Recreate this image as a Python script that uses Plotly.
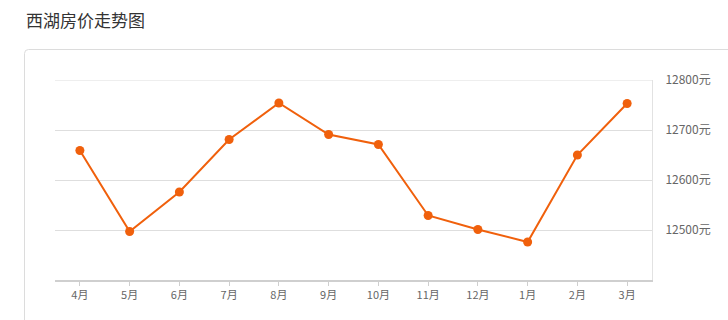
import plotly.graph_objects as go

months = ["4月", "5月", "6月", "7月", "8月", "9月", "10月", "11月", "12月", "1月", "2月", "3月"]
prices = [12659, 12497, 12576, 12681, 12754, 12691, 12671, 12529, 12501, 12476, 12650, 12753]
y_ticks = [12500, 12600, 12700, 12800]
y_tick_text = [f"{v}元" for v in y_ticks]
title_text = "西湖房价走势图"

W, H = 728, 320
L, R, T, B = 55, 76, 80, 40
pw, ph = W - L - R, H - T - B

def px(x):
    return (x - L) / pw

def py(y):
    return (H - B - y) / ph

orange = "#f0600c"
grid_color = "#dedede"
font_family = "Noto Sans CJK SC, Open Sans, sans-serif"

fig = go.Figure()
fig.add_trace(go.Scatter(
    x=months, y=prices, mode="lines+markers",
    line=dict(color=orange, width=2),
    marker=dict(color=orange, size=9),
    hoverinfo="x+y",
))

# card border with rounded top-left corner
x0, y0, x1, y1 = px(24.5), py(49.5), px(760), py(340)
r_x, r_y = 4 / pw, 4 / ph
path = (f"M {x0},{y1} L {x0},{y0 - r_y} Q {x0},{y0} {x0 + r_x},{y0} "
        f"L {x1},{y0} L {x1},{y1}")

fig.update_layout(
    width=W, height=H,
    margin=dict(l=L, r=R, t=T, b=B),
    paper_bgcolor="white", plot_bgcolor="white",
    showlegend=False,
    font=dict(family=font_family, color="#666"),
    shapes=[
        dict(type="path", path=path, xref="paper", yref="paper",
             line=dict(color="#dcdcdc", width=1), layer="below"),
        dict(type="line", xref="paper", yref="y", x0=0, x1=1,
             y0=y_ticks[-1], y1=y_ticks[-1],
             line=dict(color=grid_color, width=1), layer="below"),
    ],
    annotations=[dict(text=title_text, xref="paper", yref="paper",
                      x=px(24), y=py(20), xanchor="left", yanchor="middle",
                      showarrow=False,
                      font=dict(size=17, color="#333", family=font_family))],
    xaxis=dict(
        type="category", range=[-0.5, len(months) - 0.5],
        showgrid=False, zeroline=False,
        showline=True, linecolor="#cfcfcf", linewidth=2,
        ticks="outside", ticklen=4, tickcolor="#cfcfcf", tickwidth=1,
        tickfont=dict(size=11, color="#666"),
        fixedrange=True,
    ),
    yaxis=dict(
        side="right", range=[12400, 12800],
        tickvals=y_ticks, ticktext=y_tick_text,
        showgrid=True, gridcolor=grid_color, gridwidth=1,
        zeroline=False,
        showline=True, linecolor="#e2e2e2", linewidth=1,
        ticks="", ticklabelstandoff=10,
        tickfont=dict(size=12, color="#666"),
        fixedrange=True,
    ),
)

fig.write_html("out.html")
